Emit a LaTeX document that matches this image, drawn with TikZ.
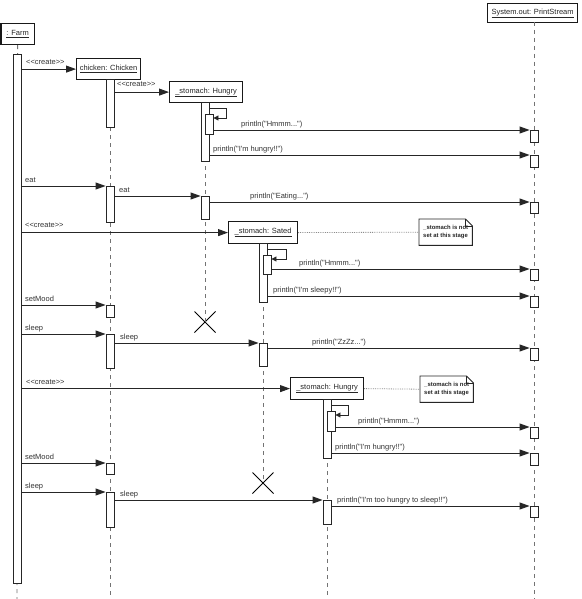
\documentclass[tikz,border=0pt]{standalone}
\usepackage{fontspec}
\newfontfamily\lsans{Liberation Sans}
\usetikzlibrary{arrows.meta,shapes.misc}
\begin{document}
\begin{tikzpicture}[x=1pt,y=-1pt,
  lbl/.style={font=\lsans\fontsize{7.5}{9}\selectfont, text=black!80, anchor=base west, inner sep=0pt},
  obj/.style={draw=black!90, line width=1.2pt, fill=white, font=\lsans\fontsize{7.5}{9}\selectfont, text=black!85, inner sep=0pt, anchor=north west},
  act/.style={draw=black!85, line width=0.9pt, fill=white, minimum width=8pt, inner sep=0pt, anchor=north},
  life/.style={draw=black!55, line width=0.9pt, dash pattern=on 4pt off 4pt},
  msg/.style={draw=black!85, line width=0.9pt, -{Triangle[length=10pt,width=7pt]}},
  selfmsg/.style={draw=black!85, line width=0.9pt, -{Triangle[length=5pt,width=5pt]}},
  xmark/.style={draw=black, line width=1pt, cross out, minimum size=20pt, inner sep=0pt},
  notebox/.style={draw=none, anchor=north west, minimum height=26pt, minimum width=53pt, inner xsep=2pt, inner ysep=0pt, align=left, font=\lsans\bfseries\fontsize{5.9}{7.5}\selectfont, text=black!85},
  notelink/.style={draw=black!45, line width=0.8pt, densely dotted},
  noteline/.style={draw=black!85, line width=0.9pt}
]
\useasboundingbox (0,0) rectangle (581,599);
\fill[white] (0,0) rectangle (581,599);

% objects
\node[obj, minimum width=33pt, minimum height=21pt] (farm) at (0.5,23) {\underline{: Farm}};
\node[obj, minimum width=64pt, minimum height=21pt] (chicken) at (76,58) {\underline{chicken: Chicken}};
\node[obj, minimum width=73pt, minimum height=21pt] (hung1) at (169,81) {\underline{\_stomach: Hungry}};
\node[obj, minimum width=90pt, minimum height=19pt] (ps) at (487,3) {\underline{System.out: PrintStream}};
\node[obj, minimum width=69pt, minimum height=22pt] (sated) at (228,221) {\underline{\_stomach: Sated}};
\node[obj, minimum width=73pt, minimum height=22pt] (hung2) at (290,377) {\underline{\_stomach: Hungry}};

% end points and destruction marks
\coordinate (farmEnd) at (17,599);
\coordinate (chEnd) at (110,599);
\coordinate (h2End) at (327,599);
\coordinate (psEnd) at (534,599);
\node[xmark] (x1) at (205,322) {};
\node[xmark] (x2) at (263,483) {};

% lifelines
\draw[life] (farm.south) -- (farmEnd);
\draw[life] (110,79) -- (chEnd);
\draw[life] (205,102) -- (x1.center);
\draw[life] (263,243) -- (x2.center);
\draw[life] (327,399) -- (h2End);
\draw[life] (534,22) -- (psEnd);

% activations
\node[act, minimum height=529pt] (farmA) at (17,54) {};
\node[act, minimum height=48pt] (chA1) at (110,79) {};
\node[act, minimum height=59pt] (h1A) at (205,102) {};
\node[act, minimum height=20pt] (h1N) at (209,114) {};
\node[act, minimum height=12pt] (ps1) at (534,130) {};
\node[act, minimum height=12pt] (ps2) at (534,155) {};
\node[act, minimum height=36pt] (chA2) at (110,186) {};
\node[act, minimum height=23pt] (h1B) at (205,196) {};
\node[act, minimum height=11pt] (ps3) at (534,202) {};
\node[act, minimum height=59pt] (satA) at (263,243) {};
\node[act, minimum height=19pt] (satN) at (267,255) {};
\node[act, minimum height=11pt] (ps4) at (534,269) {};
\node[act, minimum height=11pt] (ps5) at (534,296) {};
\node[act, minimum height=12pt] (chA3) at (110,305) {};
\node[act, minimum height=34pt] (chA4) at (110,334) {};
\node[act, minimum height=23pt] (satB) at (263,343) {};
\node[act, minimum height=12pt] (ps6) at (534,348) {};
\node[act, minimum height=59pt] (h2A) at (327,399) {};
\node[act, minimum height=20pt] (h2N) at (331,411) {};
\node[act, minimum height=11pt] (ps7) at (534,427) {};
\node[act, minimum height=12pt] (ps8) at (534,453) {};
\node[act, minimum height=11pt] (chA5) at (110,463) {};
\node[act, minimum height=35pt] (chA6) at (110,492) {};
\node[act, minimum height=24pt] (h2B) at (327,500) {};
\node[act, minimum height=11pt] (ps9) at (534,506) {};

% messages
\draw[msg] (farmA.east |- chicken.west) -- (chicken.west);
\draw[msg] (chA1.east |- hung1.west) -- (hung1.west);
\draw[selfmsg] ([yshift=-6pt]h1A.north east) -- ++(17,0) |- ([yshift=-4pt]h1N.north east);
\draw[msg] (h1N.east |- ps1.north) -- (ps1.north west);
\draw[msg] (h1A.east |- ps2.north) -- (ps2.north west);
\draw[msg] (farmA.east |- chA2.north) -- (chA2.north west);
\draw[msg] (chA2.east |- h1B.north) -- (h1B.north west);
\draw[msg] (h1B.east |- ps3.north) -- (ps3.north west);
\draw[msg] (farmA.east |- sated.west) -- (sated.west);
\draw[selfmsg] ([yshift=-6pt]satA.north east) -- ++(19,0) |- ([yshift=-4pt]satN.north east);
\draw[msg] (satN.east |- ps4.north) -- (ps4.north west);
\draw[msg] (satA.east |- ps5.north) -- (ps5.north west);
\draw[msg] (farmA.east |- chA3.north) -- (chA3.north west);
\draw[msg] (farmA.east |- chA4.north) -- (chA4.north west);
\draw[msg] (chA4.east |- satB.north) -- (satB.north west);
\draw[msg] (satB.east |- ps6.north) -- (ps6.north west);
\draw[msg] (farmA.east |- hung2.west) -- (hung2.west);
\draw[selfmsg] ([yshift=-6pt]h2A.north east) -- ++(17,0) |- ([yshift=-4pt]h2N.north east);
\draw[msg] (h2N.east |- ps7.north) -- (ps7.north west);
\draw[msg] (h2A.east |- ps8.north) -- (ps8.north west);
\draw[msg] (farmA.east |- chA5.north) -- (chA5.north west);
\draw[msg] (farmA.east |- chA6.north) -- (chA6.north west);
\draw[msg] (chA6.east |- h2B.north) -- (h2B.north west);
\draw[msg] (h2B.east |- ps9.north) -- (ps9.north west);

% message labels
\node[lbl] (l1) at (26,65) {<<create>>};
\node[lbl] (l2) at (117,87) {<<create>>};
\node[lbl] (l3) at (241,126) {println("Hmmm...")};
\node[lbl] (l4) at (213,151) {println("I'm hungry!!")};
\node[lbl] (l5) at (25,182) {eat};
\node[lbl] (l6) at (119,192) {eat};
\node[lbl] (l7) at (250,198) {println("Eating...")};
\node[lbl] (l8) at (25,227) {<<create>>};
\node[lbl] (l9) at (299,265) {println("Hmmm...")};
\node[lbl] (l10) at (273,292) {println("I'm sleepy!!")};
\node[lbl] (l11) at (25,301) {setMood};
\node[lbl] (l12) at (25,330) {sleep};
\node[lbl] (l13) at (120,339) {sleep};
\node[lbl] (l14) at (312,344) {println("ZzZz...")};
\node[lbl] (l15) at (26,384) {<<create>>};
\node[lbl] (l16) at (358,423) {println("Hmmm...")};
\node[lbl] (l17) at (335,449) {println("I'm hungry!!")};
\node[lbl] (l18) at (25,459) {setMood};
\node[lbl] (l19) at (25,488) {sleep};
\node[lbl] (l20) at (120,496) {sleep};
\node[lbl] (l21) at (337,502) {println("I'm too hungry to sleep!!")};

% notes
\node[notebox] (note1) at (419,219) {\_stomach is not\\set at this stage};
\node[notebox] (note2) at (420,376) {\_stomach is not\\set at this stage};
\foreach \n in {note1,note2}{
  \draw[noteline] (\n.north west) -- ([xshift=-7pt]\n.north east) -- ([yshift=-7pt]\n.north east) -- (\n.south east) -- (\n.south west) -- cycle;
  \draw[noteline, line width=0.6pt] ([xshift=-7pt]\n.north east) |- ([yshift=-7pt]\n.north east);
}
\draw[notelink] (sated.east) -- (note1.west);
\draw[notelink] (hung2.east) -- (note2.west);
\end{tikzpicture}
\end{document}
